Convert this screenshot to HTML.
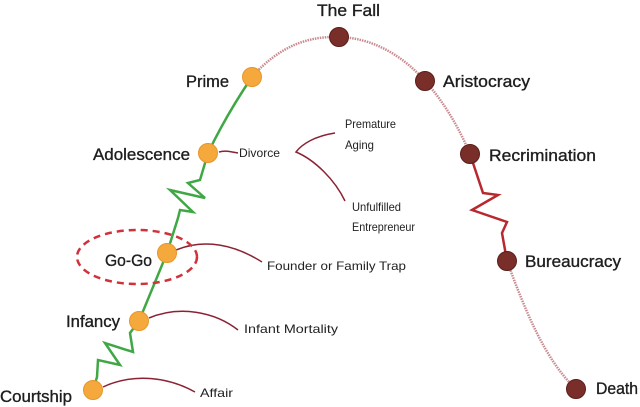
<!DOCTYPE html>
<html><head><meta charset="utf-8"><style>
html,body{margin:0;padding:0;background:#fff;}
svg{display:block;font-family:"Liberation Sans",sans-serif;}
.big{font-size:17px;fill:#1e1e1e;stroke:#1e1e1e;stroke-width:0.35px;}
.sm{font-size:12px;fill:#222;}
</style></head><body>
<svg width="640" height="407" viewBox="0 0 640 407" xmlns="http://www.w3.org/2000/svg">
<path d="M252,77 C280,45 310,36 339,37 C375,38 405,58 425,81 C445,103 460,130 470,154" fill="none" stroke="#c98a90" stroke-width="2.5" stroke-dasharray="1.5 1"/>
<path d="M507,261 C525,310 545,360 576,389" fill="none" stroke="#c98a90" stroke-width="2.5" stroke-dasharray="1.5 1"/>
<polyline points="470,154 483,193 498,195 472,210 507,222 502,233 507,261" fill="none" stroke="#b8282e" stroke-width="2.5"/>
<polyline points="93,390 97,377 98,360 120,365 105,343 133,352 130,333 139,321 167,253 178,218 180,210 193,212 170,190 205,198 188,183 200,180 208,153" fill="none" stroke="#3fa845" stroke-width="2.5"/>
<path d="M208,153 C220,128 235,102 252,77" fill="none" stroke="#3fa845" stroke-width="2.5"/>
<g fill="none" stroke="#8b2233" stroke-width="1.5">
<path d="M219,152 C226,150 232,152 238,153"/>
<path d="M335,133 C315,136 302,144 296,152 C315,160 335,180 345,201"/>
<path d="M176,250 C205,238 235,245 262,262"/>
<path d="M149,318 C180,305 215,312 238,330"/>
<path d="M103,387 C135,372 170,378 195,392"/>
</g>
<ellipse cx="137" cy="257" rx="60" ry="27" fill="none" stroke="#d0323c" stroke-width="2.5" stroke-dasharray="7 5"/>
<g fill="#f5a93c" stroke="#e8952a" stroke-width="1">
<circle cx="93" cy="390" r="9.5"/><circle cx="139" cy="321" r="9.5"/><circle cx="167" cy="253" r="9.5"/><circle cx="208" cy="153" r="9.5"/><circle cx="252" cy="77" r="9.5"/>
</g>
<g fill="#7a2e2a" stroke="#5a1e1a" stroke-width="1">
<circle cx="339" cy="37" r="9.5"/><circle cx="425" cy="81" r="9.5"/><circle cx="470" cy="154" r="9.5"/><circle cx="507" cy="261" r="9.5"/><circle cx="576" cy="389" r="9.5"/>
</g>
<text class="big" x="317" y="16" textLength="63" lengthAdjust="spacingAndGlyphs">The Fall</text>
<text class="big" x="186" y="87" textLength="43" lengthAdjust="spacingAndGlyphs">Prime</text>
<text class="big" x="93" y="160" textLength="97" lengthAdjust="spacingAndGlyphs">Adolescence</text>
<text class="big" x="105" y="266" textLength="47" lengthAdjust="spacingAndGlyphs">Go-Go</text>
<text class="big" x="66" y="327" textLength="54" lengthAdjust="spacingAndGlyphs">Infancy</text>
<text class="big" x="0" y="402" textLength="72" lengthAdjust="spacingAndGlyphs">Courtship</text>
<text class="big" x="443" y="87" textLength="87" lengthAdjust="spacingAndGlyphs">Aristocracy</text>
<text class="big" x="489" y="161" textLength="107" lengthAdjust="spacingAndGlyphs">Recrimination</text>
<text class="big" x="525" y="267" textLength="96" lengthAdjust="spacingAndGlyphs">Bureaucracy</text>
<text class="big" x="596" y="394" textLength="42" lengthAdjust="spacingAndGlyphs">Death</text>
<text class="sm" x="239" y="157" textLength="41" lengthAdjust="spacingAndGlyphs">Divorce</text>
<text class="sm" x="345" y="128" textLength="51" lengthAdjust="spacingAndGlyphs">Premature</text>
<text class="sm" x="345" y="149" textLength="29" lengthAdjust="spacingAndGlyphs">Aging</text>
<text class="sm" x="352" y="211" textLength="49" lengthAdjust="spacingAndGlyphs">Unfulfilled</text>
<text class="sm" x="352" y="231" textLength="63" lengthAdjust="spacingAndGlyphs">Entrepreneur</text>
<text class="sm" x="267" y="270" textLength="139" lengthAdjust="spacingAndGlyphs">Founder or Family Trap</text>
<text class="sm" x="244" y="333" textLength="94" lengthAdjust="spacingAndGlyphs">Infant Mortality</text>
<text class="sm" x="200" y="397" textLength="33" lengthAdjust="spacingAndGlyphs">Affair</text>
</svg>
</body></html>
